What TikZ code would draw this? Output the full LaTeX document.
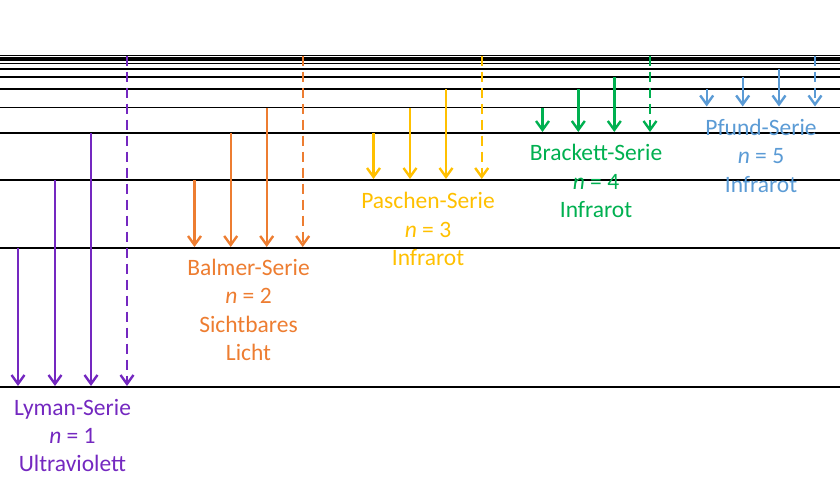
\documentclass[tikz,border=0pt]{standalone}
\usepackage{fontspec}
\setmainfont{Carlito}
\usetikzlibrary{arrows.meta}
\definecolor{lyman}{HTML}{7428C0}
\definecolor{balmer}{HTML}{ED7D31}
\definecolor{paschen}{HTML}{FFC000}
\definecolor{brackett}{HTML}{00B050}
\definecolor{pfund}{HTML}{5B9BD5}
\tikzset{
  level/.style={draw=black, line width=1.9pt},
  trans/.style={line width=2.4pt, -{Straight Barb[length=9pt,width=13pt,line width=2.4pt]}, shorten >=1pt},
  limit/.style={trans, dash pattern=on 10pt off 6pt},
  lab/.style={anchor=base, inner sep=0pt, font=\fontsize{23.5}{28}\selectfont},
}
\begin{document}
\begin{tikzpicture}[x=1pt,y=-1pt]
\useasboundingbox (0,0) rectangle (840,480);
% energy levels
\foreach \n/\y in {1/387,2/248,3/180,4/133,5/107.5,6/89.3,7/77,8/69.3,9/63.5,10/60.3,11/57.7,12/55.5}{
  \coordinate (L\n) at (0,\y);
  \coordinate (R\n) at (840,\y);
  \draw[level] (L\n) -- (R\n);
}
% Lyman
\foreach \x/\s in {18/2,55/3,91/4}{
  \draw[trans,lyman] (L\s -| \x,0) -- (L1 -| \x,0);
}
\draw[limit,lyman] (L12 -| 127,0) -- (L1 -| 127,0);
% Balmer
\foreach \x/\s in {194.5/3,230.7/4,266.7/5}{
  \draw[trans,balmer] (L\s -| \x,0) -- (L2 -| \x,0);
}
\draw[limit,balmer] (L12 -| 302.7,0) -- (L2 -| 302.7,0);
% Paschen
\foreach \x/\s in {373.5/4,410/5,446/6}{
  \draw[trans,paschen] (L\s -| \x,0) -- (L3 -| \x,0);
}
\draw[limit,paschen] (L12 -| 481.7,0) -- (L3 -| 481.7,0);
% Brackett
\foreach \x/\s in {542.5/5,578.3/6,614.3/7}{
  \draw[trans,brackett] (L\s -| \x,0) -- (L4 -| \x,0);
}
\draw[limit,brackett] (L12 -| 650,0) -- (L4 -| 650,0);
% Pfund
\foreach \x/\s in {706.7/6,742.7/7,779/8}{
  \draw[trans,pfund] (L\s -| \x,0) -- (L5 -| \x,0);
}
\draw[limit,pfund] (L12 -| 815,0) -- (L5 -| 815,0);
% labels
\node[lab,lyman] (ly1) at (72.5,415) {Lyman-Serie};
\node[lab,lyman] (ly2) at (72.5,443.3) {\itshape n\upshape{} = 1};
\node[lab,lyman] (ly3) at (72.5,471.6) {Ultraviolett};
\node[lab,balmer] (ba1) at (248.5,275) {Balmer-Serie};
\node[lab,balmer] (ba2) at (248.5,303.5) {\itshape n\upshape{} = 2};
\node[lab,balmer] (ba3) at (248.5,332) {Sichtbares};
\node[lab,balmer] (ba4) at (248.5,360.5) {Licht};
\node[lab,paschen] (pa1) at (428,208.5) {Paschen-Serie};
\node[lab,paschen] (pa2) at (428,237) {\itshape n\upshape{} = 3};
\node[lab,paschen] (pa3) at (428,265.5) {Infrarot};
\node[lab,brackett] (br1) at (596,160.5) {Brackett-Serie};
\node[lab,brackett] (br2) at (596,189) {\itshape n\upshape{} = 4};
\node[lab,brackett] (br3) at (596,217.3) {Infrarot};
\node[lab,pfund] (pf1) at (761,135) {Pfund-Serie};
\node[lab,pfund] (pf2) at (761,163.5) {\itshape n\upshape{} = 5};
\node[lab,pfund] (pf3) at (761,192) {Infrarot};
\end{tikzpicture}
\end{document}
